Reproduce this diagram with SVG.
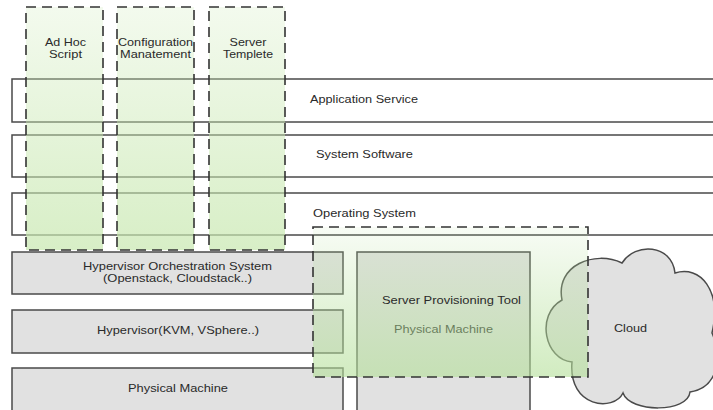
<svg xmlns="http://www.w3.org/2000/svg" width="713" height="410" viewBox="0 0 713 410">
  <defs>
    <linearGradient id="colFill" x1="0" y1="0" x2="0" y2="1">
      <stop offset="0" stop-color="#c8e8b0" stop-opacity="0.22"/>
      <stop offset="1" stop-color="#c8e8b0" stop-opacity="0.72"/>
    </linearGradient>
    <linearGradient id="provFill" x1="0" y1="0" x2="0" y2="1">
      <stop offset="0" stop-color="#b5e09a" stop-opacity="0.1"/>
      <stop offset="1" stop-color="#b5e09a" stop-opacity="0.62"/>
    </linearGradient>
    <style>
      text { font-family: "Liberation Sans", Arial, sans-serif; font-size: 11px; fill: #2a2a2a; }
      .mid { text-anchor: middle; }
      .layer { fill: #ffffff; stroke: #4a4a4a; stroke-width: 1.5; }
      .infra { fill: #e1e1e1; stroke: #4a4a4a; stroke-width: 1.5; }
      .tool { fill: url(#colFill); stroke: #333; stroke-width: 1.6; stroke-dasharray: 10 6; }
      .prov { fill: url(#provFill); stroke: #333; stroke-width: 1.6; stroke-dasharray: 10 6; }
    </style>
  </defs>

  <rect width="713" height="410" fill="#ffffff"/>

  <!-- software layers -->
  <g id="application-service">
    <rect class="layer" x="12" y="79" width="720" height="43"/>
    <text x="310" y="103" textLength="108" lengthAdjust="spacingAndGlyphs">Application Service</text>
  </g>
  <g id="system-software">
    <rect class="layer" x="12" y="135" width="720" height="42"/>
    <text x="316" y="158" textLength="97" lengthAdjust="spacingAndGlyphs">System Software</text>
  </g>
  <g id="operating-system">
    <rect class="layer" x="12" y="193" width="720" height="42"/>
    <text x="313" y="217" textLength="103" lengthAdjust="spacingAndGlyphs">Operating System</text>
  </g>

  <!-- infrastructure layers -->
  <g id="hypervisor-orchestration">
    <rect class="infra" x="12" y="252" width="331" height="42"/>
    <text class="mid" x="177.5" y="270" textLength="189" lengthAdjust="spacingAndGlyphs">Hypervisor Orchestration System</text>
    <text class="mid" x="177.5" y="282" textLength="149" lengthAdjust="spacingAndGlyphs">(Openstack, Cloudstack..)</text>
  </g>
  <g id="hypervisor">
    <rect class="infra" x="12" y="310" width="331" height="43"/>
    <text class="mid" x="178" y="334" textLength="162" lengthAdjust="spacingAndGlyphs">Hypervisor(KVM, VSphere..)</text>
  </g>
  <g id="physical-machine">
    <rect class="infra" x="12" y="368" width="331" height="60"/>
    <text class="mid" x="178" y="392" textLength="100" lengthAdjust="spacingAndGlyphs">Physical Machine</text>
  </g>
  <g id="physical-machine-2">
    <rect class="infra" x="357" y="252" width="173" height="176"/>
    <text x="394" y="333" textLength="99" lengthAdjust="spacingAndGlyphs">Physical Machine</text>
  </g>
  <g id="cloud">
    <path class="infra" d="M 572 362 C 545 360, 535 315, 562 300 C 555 265, 595 250, 622 263 C 635 242, 672 244, 675 273 C 700 265, 722 290, 712 333 C 724 360, 716 388, 690 392 C 688 413, 630 413, 623 393 C 614 412, 568 408, 572 362 Z"/>
    <text x="614" y="332" textLength="33" lengthAdjust="spacingAndGlyphs">Cloud</text>
  </g>

  <!-- configuration tools spanning the software layers -->
  <g id="ad-hoc-script">
    <rect class="tool" x="26" y="7" width="77" height="243"/>
    <text class="mid" x="65.5" y="46" textLength="41" lengthAdjust="spacingAndGlyphs">Ad Hoc</text>
    <text class="mid" x="65.5" y="58" textLength="33" lengthAdjust="spacingAndGlyphs">Script</text>
  </g>
  <g id="configuration-management">
    <rect class="tool" x="117" y="7" width="77" height="243"/>
    <text class="mid" x="155.5" y="46" textLength="75" lengthAdjust="spacingAndGlyphs">Configuration</text>
    <text class="mid" x="155.5" y="58" textLength="71" lengthAdjust="spacingAndGlyphs">Manatement</text>
  </g>
  <g id="server-template">
    <rect class="tool" x="209" y="7" width="76" height="243"/>
    <text class="mid" x="248" y="46" textLength="37" lengthAdjust="spacingAndGlyphs">Server</text>
    <text class="mid" x="248" y="58" textLength="50" lengthAdjust="spacingAndGlyphs">Templete</text>
  </g>

  <!-- provisioning tool spanning the infrastructure layers -->
  <g id="server-provisioning-tool">
    <rect class="prov" x="313" y="227" width="275" height="150"/>
    <text x="382" y="304" textLength="139" lengthAdjust="spacingAndGlyphs">Server Provisioning Tool</text>
  </g>
</svg>
